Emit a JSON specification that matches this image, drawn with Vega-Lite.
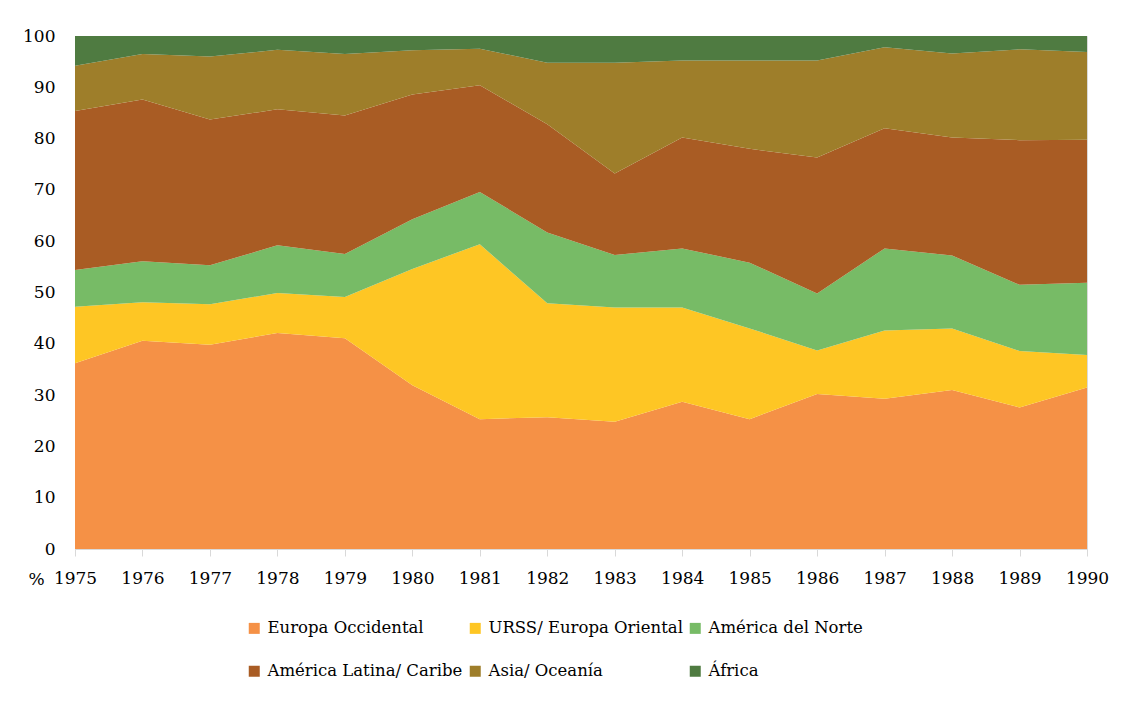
{
  "$schema": "https://vega.github.io/schema/vega-lite/v6.json",
  "width": 1012,
  "height": 513,
  "autosize": {"type": "none"},
  "padding": {"left": 75, "top": 36, "right": 45, "bottom": 153},
  "background": "white",
  "config": {
    "font": "DejaVu Serif",
    "view": {"stroke": "#d9d9d9"},
    "axis": {"labelFont": "DejaVu Serif", "labelFontSize": 17, "labelColor": "#000000", "grid": false}
  },
  "datasets": {
    "regions": [
      {"region": "Europa Occidental", "k": 1},
      {"region": "URSS/ Europa Oriental", "k": 2},
      {"region": "América del Norte", "k": 3},
      {"region": "América Latina/ Caribe", "k": 4},
      {"region": "Asia/ Oceanía", "k": 5},
      {"region": "África", "k": 6}
    ]
  },
  "data": {
    "values": [
      {"year": 1975, "Europa Occidental": 36.2, "URSS/ Europa Oriental": 11.0, "América del Norte": 7.2, "América Latina/ Caribe": 31.0, "Asia/ Oceanía": 8.8, "África": 5.8},
      {"year": 1976, "Europa Occidental": 40.6, "URSS/ Europa Oriental": 7.5, "América del Norte": 8.0, "América Latina/ Caribe": 31.5, "Asia/ Oceanía": 8.9, "África": 3.5},
      {"year": 1977, "Europa Occidental": 39.8, "URSS/ Europa Oriental": 7.9, "América del Norte": 7.6, "América Latina/ Caribe": 28.4, "Asia/ Oceanía": 12.3, "África": 4.0},
      {"year": 1978, "Europa Occidental": 42.1, "URSS/ Europa Oriental": 7.8, "América del Norte": 9.3, "América Latina/ Caribe": 26.5, "Asia/ Oceanía": 11.6, "África": 2.7},
      {"year": 1979, "Europa Occidental": 41.1, "URSS/ Europa Oriental": 8.0, "América del Norte": 8.4, "América Latina/ Caribe": 27.0, "Asia/ Oceanía": 12.0, "África": 3.5},
      {"year": 1980, "Europa Occidental": 31.9, "URSS/ Europa Oriental": 22.7, "América del Norte": 9.7, "América Latina/ Caribe": 24.3, "Asia/ Oceanía": 8.6, "África": 2.8},
      {"year": 1981, "Europa Occidental": 25.3, "URSS/ Europa Oriental": 34.1, "América del Norte": 10.2, "América Latina/ Caribe": 20.8, "Asia/ Oceanía": 7.1, "África": 2.5},
      {"year": 1982, "Europa Occidental": 25.7, "URSS/ Europa Oriental": 22.2, "América del Norte": 13.8, "América Latina/ Caribe": 21.1, "Asia/ Oceanía": 12.0, "África": 5.2},
      {"year": 1983, "Europa Occidental": 24.8, "URSS/ Europa Oriental": 22.3, "América del Norte": 10.2, "América Latina/ Caribe": 15.9, "Asia/ Oceanía": 21.6, "África": 5.2},
      {"year": 1984, "Europa Occidental": 28.7, "URSS/ Europa Oriental": 18.4, "América del Norte": 11.5, "América Latina/ Caribe": 21.6, "Asia/ Oceanía": 15.0, "África": 4.8},
      {"year": 1985, "Europa Occidental": 25.3, "URSS/ Europa Oriental": 17.7, "América del Norte": 12.8, "América Latina/ Caribe": 22.2, "Asia/ Oceanía": 17.2, "África": 4.8},
      {"year": 1986, "Europa Occidental": 30.2, "URSS/ Europa Oriental": 8.5, "América del Norte": 11.1, "América Latina/ Caribe": 26.5, "Asia/ Oceanía": 18.9, "África": 4.8},
      {"year": 1987, "Europa Occidental": 29.3, "URSS/ Europa Oriental": 13.3, "América del Norte": 16.0, "América Latina/ Caribe": 23.4, "Asia/ Oceanía": 15.8, "África": 2.2},
      {"year": 1988, "Europa Occidental": 31.0, "URSS/ Europa Oriental": 12.0, "América del Norte": 14.2, "América Latina/ Caribe": 23.0, "Asia/ Oceanía": 16.4, "África": 3.4},
      {"year": 1989, "Europa Occidental": 27.6, "URSS/ Europa Oriental": 11.0, "América del Norte": 12.9, "América Latina/ Caribe": 28.2, "Asia/ Oceanía": 17.7, "África": 2.6},
      {"year": 1990, "Europa Occidental": 31.5, "URSS/ Europa Oriental": 6.3, "América del Norte": 14.1, "América Latina/ Caribe": 27.9, "Asia/ Oceanía": 17.1, "África": 3.1}
    ]
  },
  "transform": [
    {"fold": ["Europa Occidental", "URSS/ Europa Oriental", "América del Norte", "América Latina/ Caribe", "Asia/ Oceanía", "África"], "as": ["region", "pct"]},
    {"lookup": "region", "from": {"data": {"name": "regions"}, "key": "region", "fields": ["k"]}}
  ],
  "mark": {"type": "area", "opacity": 1},
  "encoding": {
    "x": {
      "field": "year",
      "type": "quantitative",
      "scale": {"domain": [1975, 1990], "nice": false, "zero": false},
      "axis": {
        "title": null,
        "values": [1975, 1976, 1977, 1978, 1979, 1980, 1981, 1982, 1983, 1984, 1985, 1986, 1987, 1988, 1989, 1990],
        "format": "d",
        "domainColor": "#d9d9d9",
        "tickColor": "#d9d9d9",
        "tickSize": 7,
        "labelPadding": 14,
        "labelFlush": false
      }
    },
    "y": {
      "field": "pct",
      "type": "quantitative",
      "stack": "zero",
      "scale": {"domain": [0, 100], "nice": false},
      "axis": {
        "title": "%",
        "titleAngle": 0,
        "titleFont": "DejaVu Serif",
        "titleFontSize": 17,
        "titleFontWeight": "normal",
        "titleColor": "#000000",
        "titleX": -39,
        "titleY": 543,
        "titleAlign": "center",
        "titleBaseline": "middle",
        "values": [0, 10, 20, 30, 40, 50, 60, 70, 80, 90, 100],
        "domain": false,
        "ticks": false,
        "tickSize": 0,
        "labelPadding": 20
      }
    },
    "order": {"field": "k", "type": "quantitative", "sort": "ascending"},
    "color": {
      "field": "region",
      "type": "nominal",
      "sort": ["Europa Occidental", "URSS/ Europa Oriental", "América del Norte", "América Latina/ Caribe", "Asia/ Oceanía", "África"],
      "scale": {
        "domain": ["Europa Occidental", "URSS/ Europa Oriental", "América del Norte", "América Latina/ Caribe", "Asia/ Oceanía", "África"],
        "range": ["#F59146", "#FEC624", "#77BB66", "#A95C24", "#9E7E2A", "#4F7B41"]
      },
      "legend": {
        "title": null,
        "orient": "none",
        "legendX": 171,
        "legendY": 584,
        "direction": "horizontal",
        "columns": 3,
        "symbolType": "square",
        "symbolSize": 121,
        "symbolStrokeWidth": 0,
        "labelFont": "DejaVu Serif",
        "labelFontSize": 16.5,
        "labelColor": "#000000",
        "labelOffset": 5,
        "columnPadding": 4,
        "rowPadding": 26,
        "labelLimit": 400
      }
    }
  }
}
